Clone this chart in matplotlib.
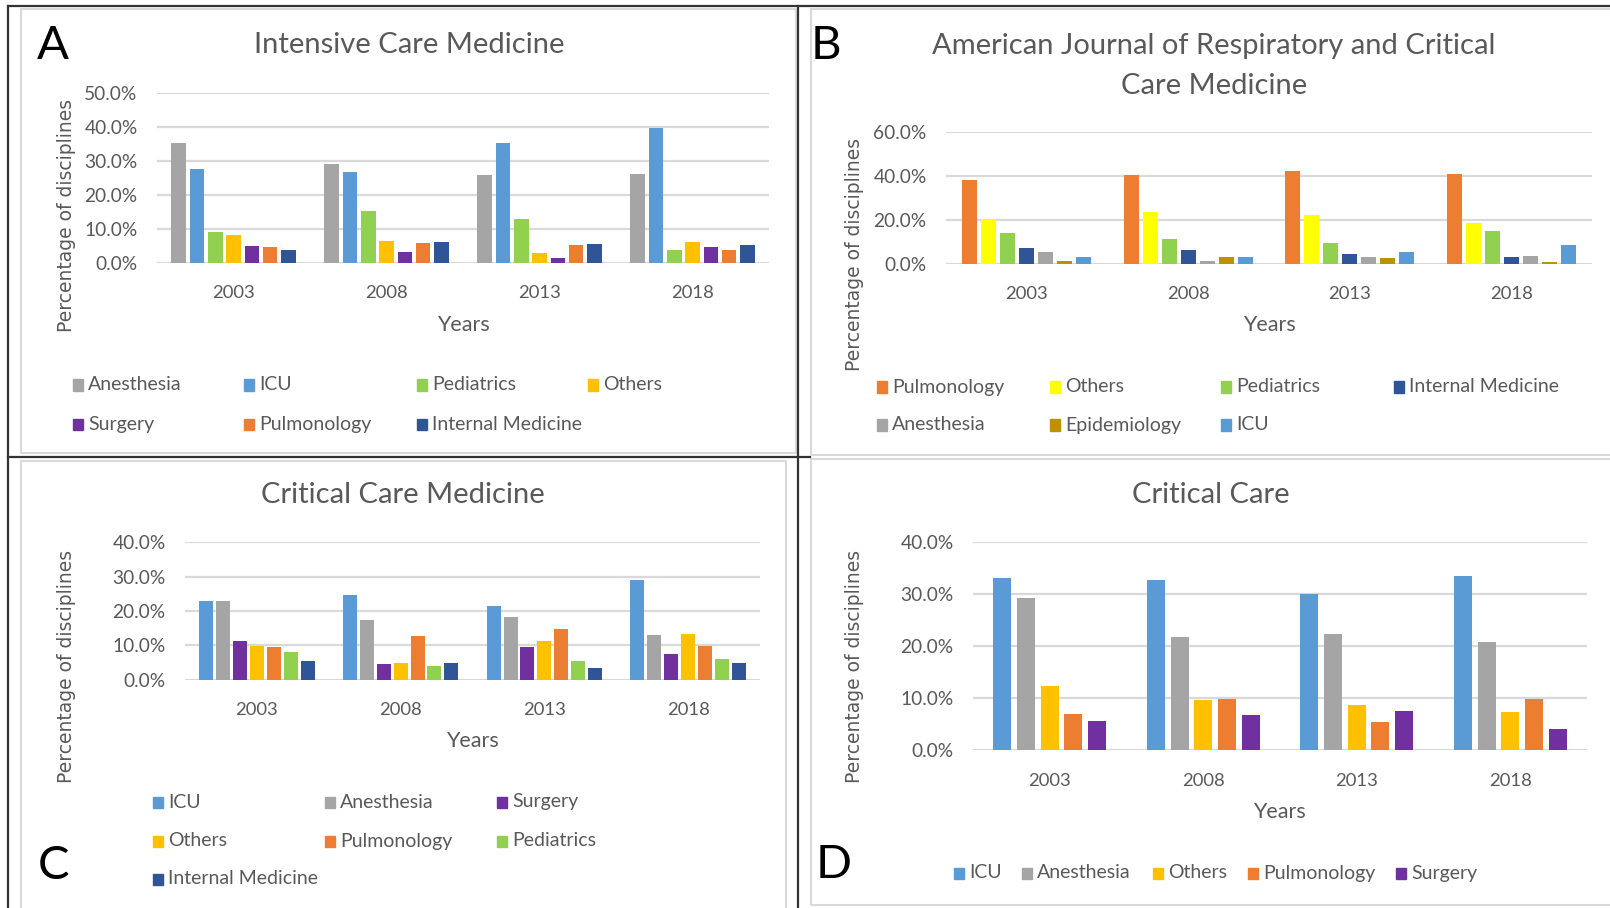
import matplotlib
matplotlib.use("Agg")
import matplotlib.pyplot as plt
from matplotlib.patches import Rectangle
from matplotlib.lines import Line2D
import numpy as np

# ---- data (percent of disciplines) ----
years = ["2003", "2008", "2013", "2018"]

# A: Intensive Care Medicine
icm_labels = ["Anesthesia", "ICU", "Pediatrics", "Others", "Surgery", "Pulmonology", "Internal Medicine"]
icm_anesthesia = [35.1, 28.9, 25.9, 26.1]
icm_icu = [27.6, 26.6, 35.2, 39.6]
icm_pediatrics = [8.9, 15.2, 12.8, 3.7]
icm_others = [8.2, 6.5, 2.8, 6.2]
icm_surgery = [4.8, 3.1, 1.5, 4.7]
icm_pulmonology = [4.5, 5.9, 5.3, 3.7]
icm_internal = [3.7, 6.0, 5.6, 5.1]

# B: American Journal of Respiratory and Critical Care Medicine
ajr_labels = ["Pulmonology", "Others", "Pediatrics", "Internal Medicine", "Anesthesia", "Epidemiology", "ICU"]
ajr_pulmonology = [37.9, 40.2, 42.0, 40.7]
ajr_others = [20.1, 23.6, 22.1, 18.3]
ajr_pediatrics = [13.8, 11.3, 9.2, 15.0]
ajr_internal = [7.1, 6.0, 4.4, 2.9]
ajr_anesthesia = [5.1, 1.4, 3.0, 3.6]
ajr_epidemiology = [1.4, 3.0, 2.6, 0.9]
ajr_icu = [3.0, 2.9, 5.1, 8.5]

# C: Critical Care Medicine
ccm_labels = ["ICU", "Anesthesia", "Surgery", "Others", "Pulmonology", "Pediatrics", "Internal Medicine"]
ccm_icu = [22.8, 24.8, 21.5, 29.1]
ccm_anesthesia = [22.9, 17.3, 18.3, 12.9]
ccm_surgery = [11.3, 4.5, 9.5, 7.5]
ccm_others = [9.9, 4.8, 11.3, 13.3]
ccm_pulmonology = [9.5, 12.7, 14.7, 9.8]
ccm_pediatrics = [8.0, 3.9, 5.4, 5.9]
ccm_internal = [5.4, 5.0, 3.3, 5.0]

# D: Critical Care
cc_labels = ["ICU", "Anesthesia", "Others", "Pulmonology", "Surgery"]
cc_icu = [33.2, 32.7, 30.1, 33.5]
cc_anesthesia = [29.2, 21.7, 22.3, 20.8]
cc_others = [12.4, 9.6, 8.7, 7.4]
cc_pulmonology = [6.9, 9.9, 5.4, 9.9]
cc_surgery = [5.6, 6.7, 7.6, 4.1]

colors = {
    "Anesthesia": "#A5A5A5",
    "ICU": "#5B9BD5",
    "Pediatrics": "#92D050",
    "Others": "#FFC000",
    "Surgery": "#7030A0",
    "Pulmonology": "#ED7D31",
    "Internal Medicine": "#2F5597",
    "Epidemiology": "#BF9000",
}
ajr_colors = dict(colors, Others="#FFFF00")

W, H = 1610, 908
TXT = "#595959"
GRID = "#D9D9D9"
FONT = "Lato"

fig = plt.figure(figsize=(W / 100, H / 100), dpi=100)
fig.patch.set_facecolor("white")


def fx(x):
    return x / W


def fy(y):
    return 1 - y / H


def hline(x0, x1, y, color, lw):
    fig.add_artist(Line2D([fx(x0), fx(x1)], [fy(y), fy(y)], color=color, lw=lw,
                          transform=fig.transFigure))


def vline(x, y0, y1, color, lw):
    fig.add_artist(Line2D([fx(x), fx(x)], [fy(y0), fy(y1)], color=color, lw=lw,
                          transform=fig.transFigure))


def gray_box(x0, y0, x1, y1):
    fig.add_artist(Rectangle((fx(x0), fy(y1)), fx(x1) - fx(x0), fy(y0) - fy(y1),
                             transform=fig.transFigure, fill=False,
                             edgecolor=GRID, lw=1.5))


# panel frames
gray_box(21, 9, 796, 453)
gray_box(811, 9, 1612, 455)
gray_box(21, 461, 786, 912)
gray_box(811, 459, 1612, 905)
hline(8, 1610, 6, "#333333", 1.6)
vline(8, 6, 908, "#333333", 1.6)
vline(798, 6, 908, "#333333", 1.6)
hline(8, 810, 457, "#333333", 1.6)


def panel(box, series, labels, pal, ymax, ystep, bar_w, pitch):
    x0, y0, x1, y1 = box
    ax = fig.add_axes([fx(x0), fy(y1), fx(x1) - fx(x0), fy(y0) - fy(y1)])
    cat = (x1 - x0) / len(years)
    n = len(series)
    pu = pitch / cat
    wu = bar_w / cat
    idx = np.arange(len(years))
    for k, (vals, lab) in enumerate(zip(series, labels)):
        ax.bar(idx + (k - (n - 1) / 2) * pu, vals, width=wu, color=pal[lab],
               zorder=3, linewidth=0)
    ax.set_xlim(-0.5, len(years) - 0.5)
    ax.set_ylim(0, ymax)
    ticks = np.arange(0, ymax + 0.01, ystep)
    ax.set_yticks(ticks)
    ax.set_yticklabels([f"{t:.1f}%" for t in ticks], fontsize=13.8, color=TXT, family=FONT)
    ax.set_xticks(idx)
    ax.set_xticklabels(years, fontsize=13.3, color=TXT, family=FONT)
    ax.tick_params(axis="both", length=0)
    ax.tick_params(axis="y", pad=14)
    ax.tick_params(axis="x", pad=16)
    for s in ax.spines.values():
        s.set_visible(False)
    ax.yaxis.grid(True, color=GRID, lw=1.6, zorder=0)
    ax.set_axisbelow(True)
    ax.patch.set_alpha(0)
    return ax


def legend(entries, pal, spots):
    for lab, (x, y) in zip(entries, spots):
        fig.add_artist(Rectangle((fx(x), fy(y + 5.5)), 10 / W, 11 / H,
                                 transform=fig.transFigure, color=pal[lab]))
        fig.text(fx(x + 15), fy(y), lab, fontsize=14, color=TXT, family=FONT,
                 va="center", ha="left")


def texts(letter_xy, letter, title_xy, title, ylab_xy, xlab_xy):
    fig.text(fx(letter_xy[0]), fy(letter_xy[1]), letter, fontsize=34, color="black",
             family=FONT, ha="center", va="center")
    fig.text(fx(title_xy[0]), fy(title_xy[1]), title, fontsize=21, color=TXT,
             family=FONT, ha="center", va="center", linespacing=1.68)
    fig.text(fx(ylab_xy[0]), fy(ylab_xy[1]), "Percentage of disciplines", fontsize=13.5,
             color=TXT, family="DejaVu Sans", rotation=90, ha="center", va="center")
    fig.text(fx(xlab_xy[0]), fy(xlab_xy[1]), "Years", fontsize=15.5, color=TXT,
             family=FONT, ha="center", va="center")


# A
panel((157, 92.7, 769, 262.7),
      [icm_anesthesia, icm_icu, icm_pediatrics, icm_others, icm_surgery, icm_pulmonology, icm_internal],
      icm_labels, colors, 50, 10, 14.6, 18.3)
texts((53, 46), "A", (409, 45), "Intensive Care Medicine", (66, 215), (463, 325))
legend(icm_labels, colors,
       [(73, 385), (244, 385), (417, 385), (588, 385), (73, 424), (244, 424), (417, 424)])

# B
panel((946, 131.7, 1592, 263.7),
      [ajr_pulmonology, ajr_others, ajr_pediatrics, ajr_internal, ajr_anesthesia, ajr_epidemiology, ajr_icu],
      ajr_labels, ajr_colors, 60, 20, 15.3, 19)
texts((826, 46), "B", (1214, 66), "American Journal of Respiratory and Critical\nCare Medicine",
      (855, 254), (1269, 325))
legend(ajr_labels, ajr_colors,
       [(877, 387), (1050, 387), (1221, 387), (1394, 387), (877, 425), (1050, 425), (1221, 425)])

# C
panel((185, 542.3, 760, 679.7),
      [ccm_icu, ccm_anesthesia, ccm_surgery, ccm_others, ccm_pulmonology, ccm_pediatrics, ccm_internal],
      ccm_labels, colors, 40, 10, 14, 16.9)
texts((53, 866), "C", (403, 495), "Critical Care Medicine", (66, 666), (472, 741))
legend(ccm_labels, colors,
       [(153, 802), (325, 802), (497, 802), (153, 841), (325, 841), (497, 841), (153, 879)])

# D
panel((973, 542.3, 1587, 750.3),
      [cc_icu, cc_anesthesia, cc_others, cc_pulmonology, cc_surgery],
      cc_labels, colors, 40, 10, 18, 23.7)
texts((834, 865), "D", (1211, 495), "Critical Care", (855, 666), (1279, 812))
legend(cc_labels, colors, [(954, 873), (1022, 873), (1153, 873), (1248, 873), (1396, 873)])

fig.savefig("out.png", dpi=100, facecolor="white")
